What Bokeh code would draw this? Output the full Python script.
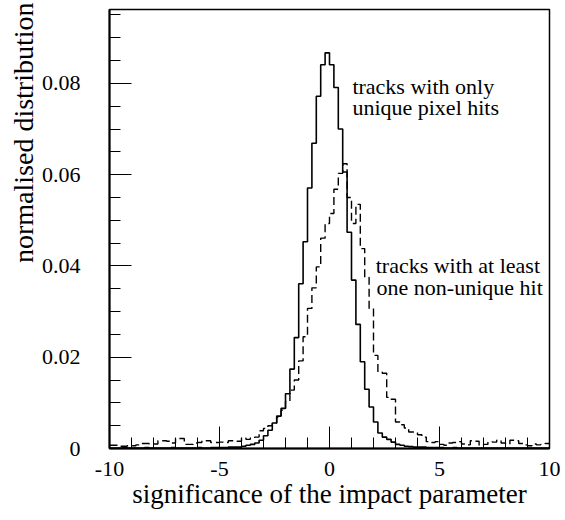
import numpy as np
from bokeh.plotting import figure
from bokeh.models import FixedTicker, Label, Range1d, Title
from bokeh.embed import file_html
from bokeh.resources import INLINE

# histogram binning: 100 bins of width 0.2 between -10 and 10
x_min, x_max, n_bins = -10.0, 10.0, 100

# tracks with only unique pixel hits (solid)
unique_hits = [
    0.0001, 0.0001, 0.0001, 0.0002, 0.0001, 0.0001, 0.0001, 0.0001, 0.0002, 0.0001,
    0.0001, 0.0001, 0.0001, 0.0001, 0.0002, 0.0001, 0.0001, 0.0001, 0.0001, 0.0001,
    0.0002, 0.0001, 0.0001, 0.0002, 0.0002, 0.0002, 0.0002, 0.0003, 0.0003, 0.0003,
    0.0005, 0.0007, 0.0009, 0.0012, 0.0018, 0.0028, 0.0040, 0.0056, 0.0071, 0.0088,
    0.0120, 0.0174, 0.0243, 0.0361, 0.0453, 0.0571, 0.0669, 0.0772, 0.0841, 0.0867,
    0.0841, 0.0791, 0.0700, 0.0606, 0.0474, 0.0369, 0.0272, 0.0190, 0.0130, 0.0091,
    0.0058, 0.0034, 0.0025, 0.0020, 0.0014, 0.0009, 0.0007, 0.0005, 0.0004, 0.0003,
    0.0003, 0.0003, 0.0002, 0.0002, 0.0002, 0.0002, 0.0001, 0.0001, 0.0002, 0.0001,
    0.0001, 0.0001, 0.0001, 0.0001, 0.0001, 0.0001, 0.0001, 0.0001, 0.0001, 0.0001,
    0.0001, 0.0001, 0.0001, 0.0001, 0.0001, 0.0001, 0.0001, 0.0001, 0.0001, 0.0001,
]

# tracks with at least one non-unique hit (dashed)
nonunique_hits = [
    0.0007, 0.0007, 0.0005, 0.0005, 0.0006, 0.0006, 0.0008, 0.0011, 0.0011, 0.0010,
    0.0010, 0.0017, 0.0017, 0.0016, 0.0012, 0.0022, 0.0022, 0.0009, 0.0009, 0.0012,
    0.0013, 0.0017, 0.0017, 0.0013, 0.0013, 0.0014, 0.0013, 0.0017, 0.0017, 0.0016,
    0.0023, 0.0020, 0.0023, 0.0025, 0.0039, 0.0044, 0.0050, 0.0056, 0.0068, 0.0084,
    0.0103, 0.0128, 0.0150, 0.0192, 0.0245, 0.0307, 0.0352, 0.0398, 0.0461, 0.0493,
    0.0515, 0.0568, 0.0603, 0.0624, 0.0550, 0.0493, 0.0535, 0.0438, 0.0375, 0.0307,
    0.0204, 0.0167, 0.0165, 0.0112, 0.0108, 0.0058, 0.0052, 0.0045, 0.0036, 0.0036,
    0.0030, 0.0025, 0.0015, 0.0013, 0.0015, 0.0009, 0.0007, 0.0012, 0.0013, 0.0015,
    0.0010, 0.0008, 0.0017, 0.0016, 0.0007, 0.0009, 0.0015, 0.0014, 0.0018, 0.0012,
    0.0010, 0.0018, 0.0017, 0.0011, 0.0008, 0.0006, 0.0010, 0.0008, 0.0009, 0.0011,
]

x_major_ticks = [-10, -5, 0, 5, 10]
x_minor_ticks = list(range(-10, 11))
x_tick_labels = {-10: "-10", -5: "-5", 0: "0", 5: "5", 10: "10"}
y_major_ticks = [0, 0.02, 0.04, 0.06, 0.08]
y_minor_ticks = [round(0.005 * k, 3) for k in range(20)]
y_tick_labels = {0: "0", 0.02: "0.02", 0.04: "0.04", 0.06: "0.06", 0.08: "0.08"}

x_title = "significance of the impact parameter"
y_title = "normalised distribution"
label_unique = ["tracks with only", "unique pixel hits"]
label_nonunique = ["tracks with at least", "one non-unique hit"]

FONT = "Liberation Serif"

edges = np.linspace(x_min, x_max, n_bins + 1)

p = figure(width=565, height=520,
           x_range=Range1d(x_min, x_max), y_range=Range1d(0, 0.0962),
           output_backend="svg", toolbar_location=None,
           min_border_left=109, min_border_right=16,
           min_border_top=9, min_border_bottom=72)
p.background_fill_color = "white"
p.border_fill_color = "white"
p.outline_line_color = "black"
p.outline_line_width = 1.5
p.xgrid.visible = False
p.ygrid.visible = False

p.step(x=edges, y=list(unique_hits) + [unique_hits[-1]], mode="after",
       line_color="black", line_width=1.6)
p.step(x=edges, y=list(nonunique_hits) + [nonunique_hits[-1]], mode="after",
       line_color="black", line_width=1.4, line_dash="8 4")

for ax, maj, mnr, labs in ((p.xaxis, x_major_ticks, x_minor_ticks, x_tick_labels),
                           (p.yaxis, y_major_ticks, y_minor_ticks, y_tick_labels)):
    ax.ticker = FixedTicker(ticks=maj, minor_ticks=mnr)
    ax.major_label_overrides = labs
    ax.axis_line_color = "black"
    ax.axis_line_width = 2
    ax.major_tick_in = 22
    ax.major_tick_out = 0
    ax.minor_tick_in = 11
    ax.minor_tick_out = 0
    ax.major_tick_line_color = "black"
    ax.minor_tick_line_color = "black"
    ax.major_tick_line_width = 1
    ax.minor_tick_line_width = 1
    ax.major_label_text_font = FONT
    ax.major_label_text_font_size = "22px"
    ax.major_label_text_color = "black"

p.xaxis.major_label_standoff = 13
p.yaxis.major_label_standoff = 29
p.xaxis.axis_label = x_title
p.xaxis.axis_label_text_font = FONT
p.xaxis.axis_label_text_font_size = "27px"
p.xaxis.axis_label_text_font_style = "normal"
p.xaxis.axis_label_text_color = "black"
p.xaxis.axis_label_standoff = 0

# y title, aligned to the top end of the axis
p.add_layout(Title(text=y_title, align="right", text_font=FONT,
                   text_font_size="28px", text_font_style="normal",
                   text_color="black", standoff=0, offset=-7), "left")

for txt, yy in zip(label_unique, (0.0794, 0.0748)):
    p.add_layout(Label(x=1.04, y=yy, text=txt, text_align="left",
                       text_baseline="alphabetic", text_font=FONT,
                       text_font_size="22px", text_color="black"))
for txt, xx, yy in zip(label_nonunique, (2.10, 2.14), (0.0402, 0.0352)):
    p.add_layout(Label(x=xx, y=yy, text=txt, text_align="left",
                       text_baseline="alphabetic", text_font=FONT,
                       text_font_size="22px", text_color="black"))

open("out.html", "w").write(file_html(p, INLINE))
